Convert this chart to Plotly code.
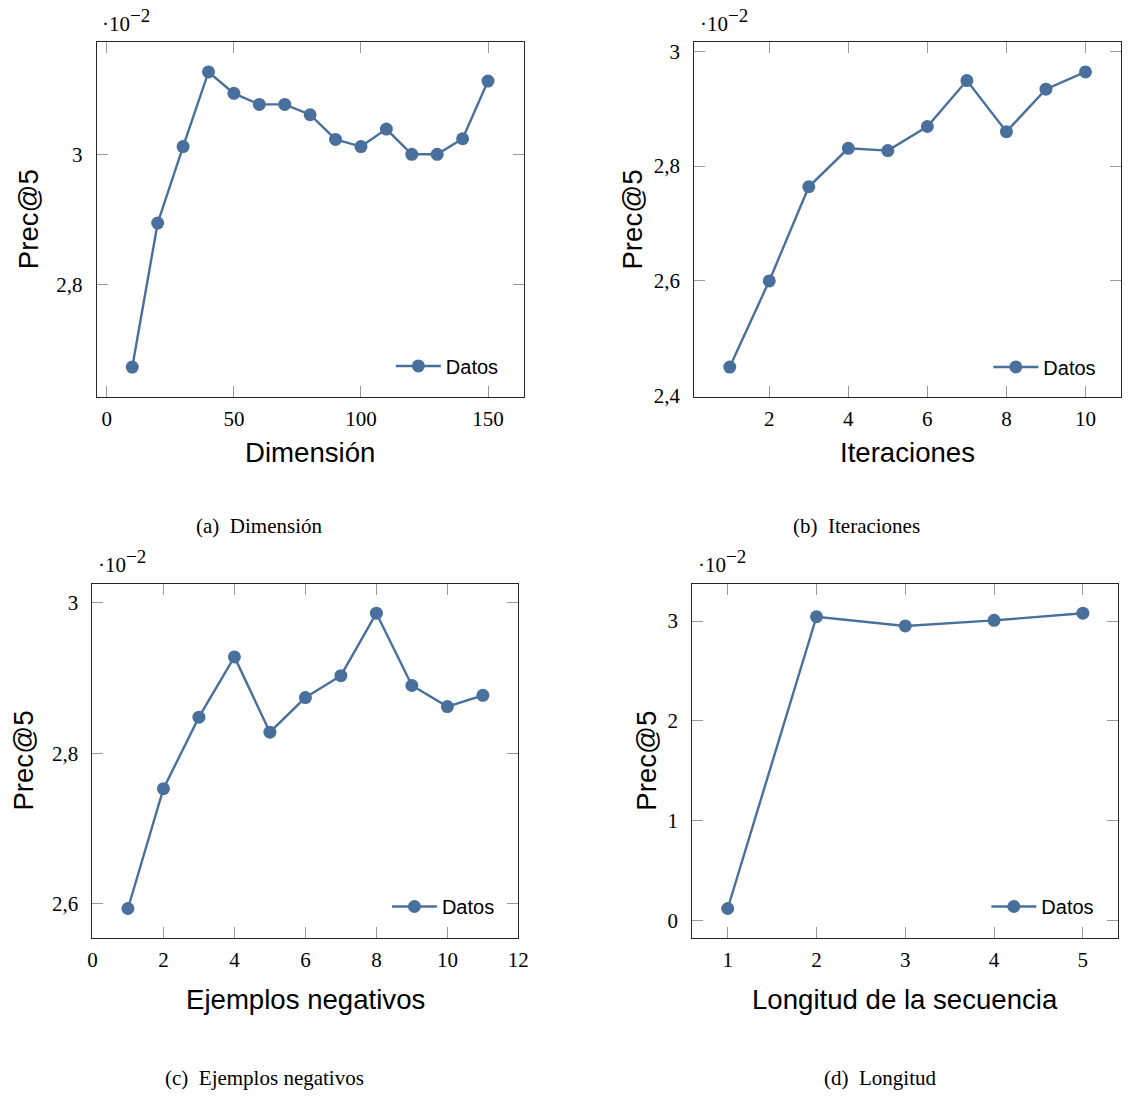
import plotly.graph_objects as go

W, H = 1136, 1097

# ---------------- data ----------------
dim_x = [10, 20, 30, 40, 50, 60, 70, 80, 90, 100, 110, 120, 130, 140, 150]
dim_y = [2.673, 2.895, 3.013, 3.128, 3.095, 3.078, 3.078, 3.062, 3.024, 3.013, 3.040, 3.001, 3.001, 3.025, 3.114]

it_x = [1, 2, 3, 4, 5, 6, 7, 8, 9, 10]
it_y = [2.450, 2.600, 2.764, 2.831, 2.827, 2.869, 2.949, 2.860, 2.934, 2.964]

neg_x = [1, 2, 3, 4, 5, 6, 7, 8, 9, 10, 11]
neg_y = [2.594, 2.753, 2.848, 2.928, 2.828, 2.874, 2.903, 2.986, 2.890, 2.862, 2.877]

len_x = [1, 2, 3, 4, 5]
len_y = [0.119, 3.043, 2.951, 3.007, 3.079]

# tick values / labels
a_xticks = [0, 50, 100, 150]
a_yticks = [2.8, 3.0]
a_yticklabels = ["2,8", "3"]
b_xticks = [2, 4, 6, 8, 10]
b_yticks = [2.4, 2.6, 2.8, 3.0]
b_yticklabels = ["2,4", "2,6", "2,8", "3"]
c_xticks = [0, 2, 4, 6, 8, 10, 12]
c_yticks = [2.6, 2.8, 3.0]
c_yticklabels = ["2,6", "2,8", "3"]
d_xticks = [1, 2, 3, 4, 5]
d_yticks = [0, 1, 2, 3]
d_yticklabels = ["0", "1", "2", "3"]

x_titles = ["Dimensión", "Iteraciones", "Ejemplos negativos", "Longitud de la secuencia"]
captions = ["(a)  Dimensión", "(b)  Iteraciones", "(c)  Ejemplos negativos", "(d)  Longitud"]
y_title = "Prec@5"
series_name = "Datos"

COLOR = "#49709c"
SERIF = "Liberation Serif"
SANS = "Liberation Sans"


def px_x(p):
    return p / W


def px_y(p):
    return 1 - p / H


def enlarge(v, f=0.1):
    lo, hi = min(v), max(v)
    s = hi - lo
    return [lo - f * s, hi + f * s]


# panel frames in pixels: (left, right, top, bottom)
frames = [
    (93, 526, 40, 399),
    (699, 1132, 40, 399),
    (88.7, 520.7, 588.7, 948),
    (697, 1129.3, 588.7, 948),
]

panels = [
    (dim_x, dim_y, a_xticks, a_yticks, a_yticklabels, enlarge(dim_x), enlarge(dim_y)),
    (it_x, it_y, b_xticks, b_yticks, b_yticklabels, enlarge(it_x), enlarge(it_y)),
    (neg_x, neg_y, c_xticks, c_yticks, c_yticklabels, [0, 12], enlarge(neg_y)),
    (len_x, len_y, d_xticks, d_yticks, d_yticklabels, enlarge(len_x), enlarge(len_y)),
]

fig = go.Figure()
layout = dict(
    width=W, height=H,
    margin=dict(l=0, r=0, t=0, b=0),
    paper_bgcolor="white", plot_bgcolor="white",
    showlegend=True,
)

ytitle_x = [24, 636, 19, 651]
xtitle_y = [456, 456, 1010, 1010]
caption_pos = [(258, 530), (864, 530), (263, 1090), (887, 1090)]
exp_pos = [(96, 35), (703, 35), (92, 584), (701, 584)]
legend_pos = [(506, 368), (1112, 369), (502, 916), (1110, 916)]

annotations = []
for i, (xs, ys, xt, yt, ytl, xr, yr) in enumerate(panels):
    n = "" if i == 0 else str(i + 1)
    L, R, T, B = frames[i]
    leg = "legend" if i == 0 else "legend" + str(i + 1)
    fig.add_trace(go.Scatter(
        x=xs, y=ys, mode="lines+markers", name=series_name,
        line=dict(color=COLOR, width=2.4),
        marker=dict(color=COLOR, size=13),
        xaxis="x" + n, yaxis="y" + n, legend=leg,
    ))
    common = dict(
        showline=True, mirror="ticks", linecolor="#262626", linewidth=1,
        ticks="inside", ticklen=11, tickcolor="#9a9a9a", tickwidth=1,
        showgrid=False, zeroline=False,
        tickfont=dict(family=SERIF, size=21, color="black"),
        fixedrange=True,
    )
    layout["xaxis" + n] = dict(
        domain=[px_x(L), px_x(R)], anchor="y" + n, range=xr,
        tickmode="array", tickvals=xt, ticktext=[str(v) for v in xt],
        ticklabelstandoff=3, **common)
    layout["yaxis" + n] = dict(
        domain=[px_y(B), px_y(T)], anchor="x" + n, range=yr,
        tickmode="array", tickvals=yt, ticktext=ytl,
        ticklabelstandoff=9, **common)
    lx, ly = legend_pos[i]
    layout[leg] = dict(
        x=px_x(lx), y=px_y(ly), xanchor="right", yanchor="middle",
        xref="paper", yref="paper",
        bgcolor="rgba(0,0,0,0)", borderwidth=0, itemwidth=45,
        font=dict(family=SANS, size=20, color="black"),
    )
    # axis titles
    annotations.append(dict(
        text=x_titles[i], x=px_x((L + R) / 2), y=px_y(xtitle_y[i]), xref="paper", yref="paper",
        xanchor="center", yanchor="middle", showarrow=False,
        font=dict(family=SANS, size=27.6, color="black")))
    annotations.append(dict(
        text=y_title, x=px_x(ytitle_x[i]), y=px_y((T + B) / 2), xref="paper", yref="paper",
        xanchor="center", yanchor="middle", showarrow=False, textangle=-90,
        font=dict(family=SANS, size=27.6, color="black")))
    # scale factor label
    ex, ey = exp_pos[i]
    annotations.append(dict(
        text="·10<sup><span style='font-size:19px'>−2</span></sup>",
        x=px_x(ex), y=px_y(ey), xref="paper", yref="paper",
        xanchor="left", yanchor="bottom", showarrow=False,
        font=dict(family=SERIF, size=21, color="black")))
    # caption
    cx, cy = caption_pos[i]
    annotations.append(dict(
        text=captions[i], x=px_x(cx), y=px_y(cy), xref="paper", yref="paper",
        xanchor="center", yanchor="middle", showarrow=False,
        font=dict(family=SERIF, size=21, color="black")))

layout["annotations"] = annotations
fig.update_layout(**layout)
fig.write_html("out.html")
